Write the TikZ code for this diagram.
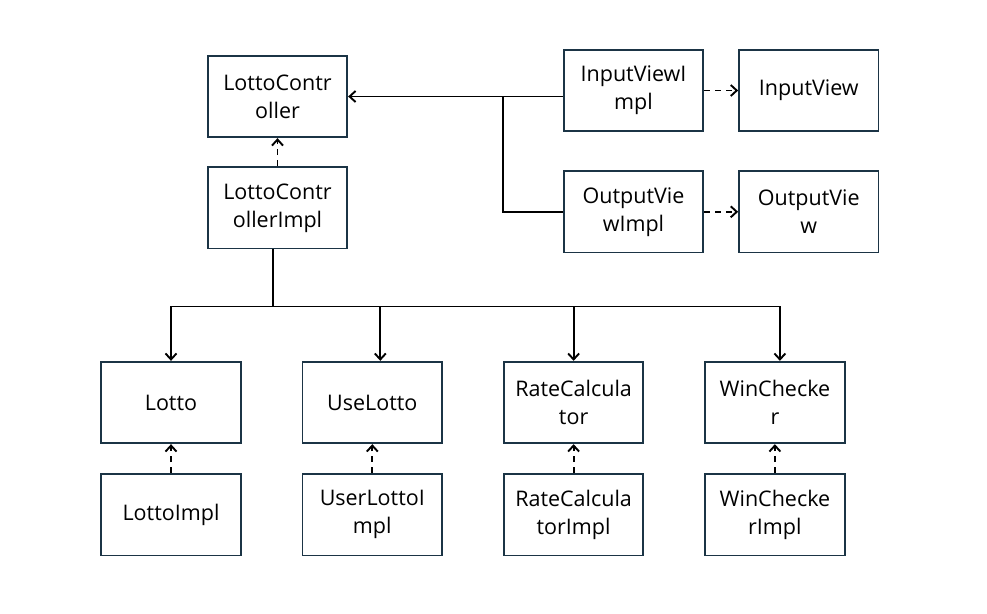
\documentclass[tikz,border=0pt]{standalone}
\usepackage{fontspec}
\setmainfont{Open Sans}
\usepackage{tikz}
\usetikzlibrary{positioning,arrows.meta}
\definecolor{BoxLine}{HTML}{1B3445}

\begin{document}
\begin{tikzpicture}[x=1pt, y=1pt,
        node distance=28pt and 34pt,
        box/.style={draw=BoxLine, line width=1.8pt, rectangle, minimum width=139.5pt, minimum height=81.5pt, inner sep=0pt, align=center, font=\fontsize{21.5}{28}\selectfont},
        uses/.style={-{Straight Barb[length=6pt,width=11pt]}, line width=1.9pt},
        impl/.style={-{Straight Barb[length=6pt,width=11pt]}, line width=1.9pt, dash pattern=on 6pt off 5pt}]
        \useasboundingbox (0,0) rectangle (987,-613);

        \node[box] (lc) at (277.5,-96.5) {LottoContr\\oller};
        \node[box, below=of lc] (lci) {LottoContr\\ollerImpl};
        \node[box] (ivi) at (633.5,-90.5) {InputViewI\\mpl};
        \node[box, right=of ivi] (iv) {InputView};
        \node[box, below=38pt of ivi] (ovi) {OutputVie\\wImpl};
        \node[box, right=of ovi] (ov) {OutputVie\\w};

        \node[box] (lotto) at (171,-402.5) {Lotto};
        \node[box, right=60pt of lotto] (use) {UseLotto};
        \node[box, right=60pt of use] (rate) {RateCalcula\\tor};
        \node[box, right=60pt of rate] (win) {WinChecke\\r};
        \node[box, below=29pt of lotto] (lottoimpl) {LottoImpl};
        \node[box, below=29pt of use] (useimpl) {UserLottoI\\mpl};
        \node[box, below=29pt of rate] (rateimpl) {RateCalcula\\torImpl};
        \node[box, below=29pt of win] (winimpl) {WinChecke\\rImpl};

        \draw[uses] (lc.east -| ivi.west) -- (lc.east);
        \coordinate (join) at (503,0 |- lc.east);
        \draw[line width=1.9pt] (ovi.west) -| (join);
        \draw[impl] (ivi) -- (iv);
        \draw[impl] (ovi) -- (ov);
        \draw[impl] (lci) -- (lc);

        % bus to the interfaces
        \coordinate (usetop) at ([xshift=8pt]use.north);
        \coordinate (wintop) at ([xshift=5pt]win.north);
        \draw[line width=1.9pt] ([xshift=-4.5pt]lci.south) -- ++(0,-57) coordinate (bus);
        \draw[line width=1.9pt] (bus -| lotto) -- (bus -| wintop);
        \draw[uses] (bus -| lotto) -- (lotto);
        \draw[uses] (bus -| usetop) -- (usetop);
        \draw[uses] (bus -| rate) -- (rate);
        \draw[uses] (bus -| wintop) -- (wintop);

        \draw[impl] (lottoimpl) -- (lotto);
        \draw[impl] (useimpl) -- (use);
        \draw[impl] (rateimpl) -- (rate);
        \draw[impl] (winimpl) -- (win);
    \end{tikzpicture}
\end{document}
